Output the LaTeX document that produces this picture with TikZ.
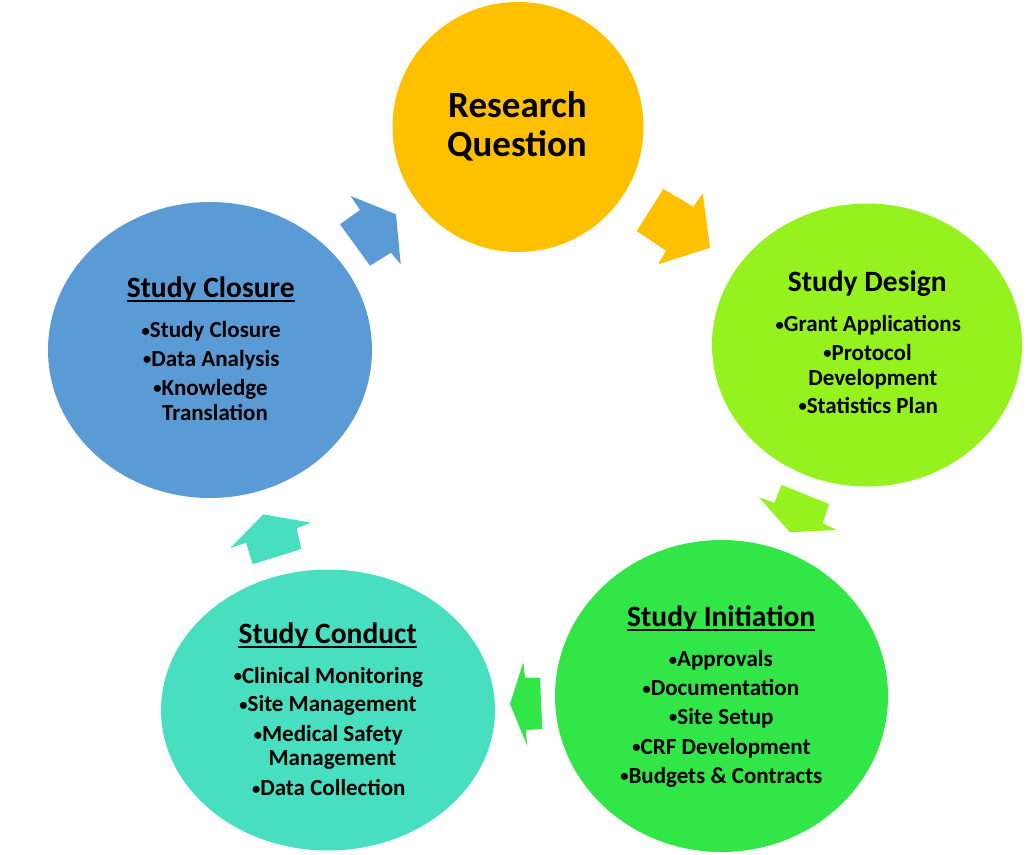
\documentclass[tikz,border=0pt]{standalone}
\usepackage{fontspec}
\setmainfont{Carlito}
\usetikzlibrary{shapes.geometric}
\definecolor{cyel}{HTML}{FFC000}
\definecolor{cblue}{HTML}{5B9BD5}
\definecolor{clime}{HTML}{96F21E}
\definecolor{cgreen}{HTML}{32E648}
\definecolor{cteal}{HTML}{48DFC0}
\newcommand\bul{\raisebox{0.07em}{\scalebox{0.72}{•}}}
\tikzset{
  blob/.style={ellipse, inner sep=0pt, draw=none},
  hd/.style={font=\fontsize{29.5}{31}\selectfont\bfseries, anchor=base, inner sep=0pt},
  big/.style={font=\fontsize{37}{40}\selectfont\bfseries, anchor=base, inner sep=0pt},
  it/.style={font=\fontsize{23}{25}\selectfont\bfseries, anchor=base, inner sep=0pt},
  uline/.style={line width=2pt},
}
\begin{document}
\begin{tikzpicture}[x=1pt,y=-1pt]
\useasboundingbox (0,0) rectangle (1028,854);

% circles
\node[blob, fill=cyel,   minimum width=251pt, minimum height=250pt] (rq) at (518,127) {};
\node[blob, fill=clime,  minimum width=310pt, minimum height=283pt] (sd) at (867,345) {};
\node[blob, fill=cgreen, minimum width=333pt, minimum height=312pt] (si) at (721.5,696) {};
\node[blob, fill=cteal,  minimum width=334pt, minimum height=281pt] (sc) at (328,710) {};
\node[blob, fill=cblue,  minimum width=324pt, minimum height=296pt] (sz) at (210,350) {};

% block arrows
\fill[cyel]  (663.3,189) -- (693.3,206.7) -- (702.7,193.3) -- (710,247.7) -- (658.3,264.3) -- (666,250.7) -- (636.7,231) -- cycle;
\fill[clime] (781.7,485) -- (829,504) -- (822.7,523.3) -- (836.7,530) -- (790,532.3) -- (759,497.3) -- (774.3,502.7) -- cycle;
\fill[cgreen] (523.3,662.3) -- (525,677.7) -- (540,677.7) -- (542.3,729) -- (525.7,730) -- (527.3,746) -- (510,704) -- cycle;
\fill[cteal] (263.3,514.3) -- (310.7,522.7) -- (296.7,528.3) -- (301.3,549) -- (252.7,564.3) -- (246,542.7) -- (230,548.3) -- cycle;
\fill[cblue] (350.7,196) -- (396,214.3) -- (400.7,264.3) -- (391,252.7) -- (370,265.7) -- (340,224.3) -- (360,210) -- cycle;

% Research Question
\node[big] (rq1) at (517.5,117) {Research};
\node[big] (rq2) at (517,156.7) {Question};

% Study Design
\node[hd] (sdh) at (867.2,291.7) {Study Design};
\node[it] (sd1) at (868.3,331.7) {\bul Grant Applications};
\node[it] (sd2) at (867.5,360) {\bul Protocol};
\node[it] (sd3) at (872.8,385) {Development};
\node[it] (sd4) at (868.3,413.3) {\bul Statistics Plan};

% Study Initiation
\node[hd] (sih) at (721.2,626.7) {Study Initiation};
\draw[uline] ([yshift=-3.5pt]sih.base west) -- ([yshift=-3.5pt]sih.base east);
\node[it] (si1) at (720.8,666.7) {\bul Approvals};
\node[it] (si2) at (720.8,695.7) {\bul Documentation};
\node[it] (si3) at (721.3,724.3) {\bul Site Setup};
\node[it] (si4) at (721.5,754) {\bul CRF Development};
\node[it] (si5) at (721.3,783.3) {\bul Budgets \& Contracts};

% Study Conduct
\node[hd] (sch) at (327.7,643.3) {Study Conduct};
\draw[uline] ([yshift=-3.5pt]sch.base west) -- ([yshift=-3.5pt]sch.base east);
\node[it] (sc1) at (328.3,683.3) {\bul Clinical Monitoring};
\node[it] (sc2) at (328,711.7) {\bul Site Management};
\node[it] (sc3) at (328.3,741.7) {\bul Medical Safety};
\node[it] (sc4) at (332.5,765) {Management};
\node[it] (sc5) at (328.8,795.7) {\bul Data Collection};

% Study Closure
\node[hd] (szh) at (210.7,297) {Study Closure};
\draw[uline] ([yshift=-3.5pt]szh.base west) -- ([yshift=-3.5pt]szh.base east);
\node[it] (sz1) at (211.2,337.7) {\bul Study Closure};
\node[it] (sz2) at (211.3,366) {\bul Data Analysis};
\node[it] (sz3) at (210.5,395) {\bul Knowledge};
\node[it] (sz4) at (215,420.7) {Translation};
\end{tikzpicture}
\end{document}
